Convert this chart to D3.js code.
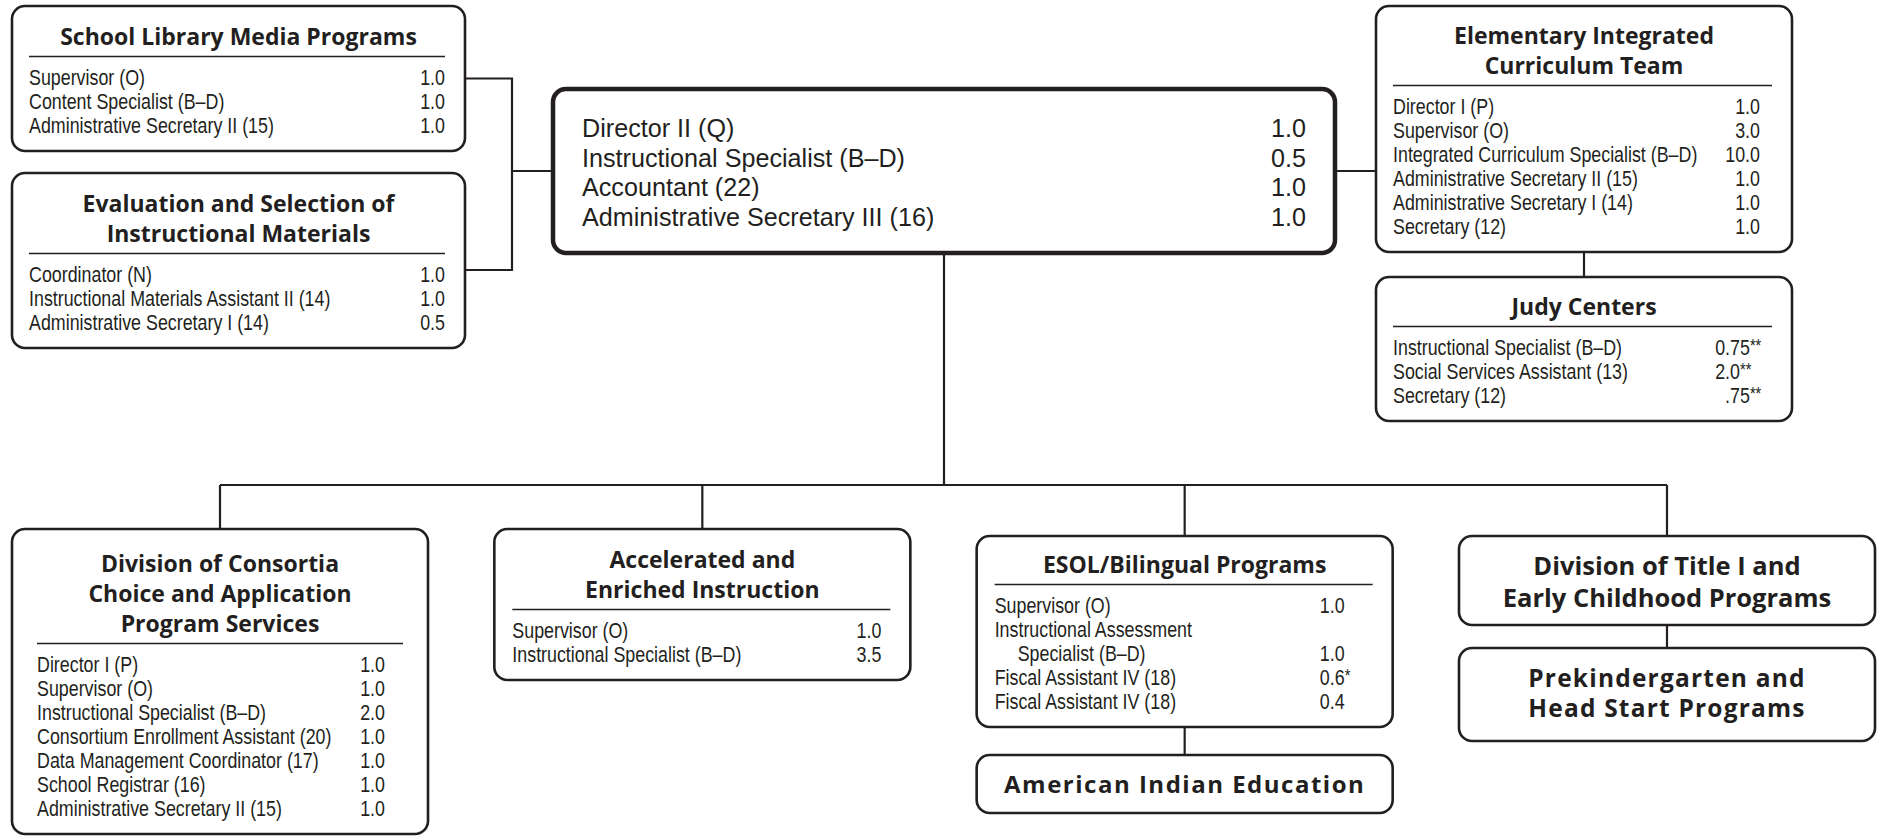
<!DOCTYPE html>
<html>
<head>
<meta charset="utf-8">
<script src="https://cdn.jsdelivr.net/npm/d3@7"></script>
<style>
	body { margin: 0; background: #fff; }
	svg { display: block; }
</style>
</head>
<body>
<svg id="chart"></svg>
<script>
// Staff lists, [position, FTE, indent?]
const mainStaff = [
	['Director II (Q)', '1.0'],
	['Instructional Specialist (B–D)', '0.5'],
	['Accountant (22)', '1.0'],
	['Administrative Secretary III (16)', '1.0']
];
const libraryTitle = ['School Library Media Programs'];
const libraryStaff = [
	['Supervisor (O)', '1.0'],
	['Content Specialist (B–D)', '1.0'],
	['Administrative Secretary II (15)', '1.0']
];
const evalTitle = ['Evaluation and Selection of', 'Instructional Materials'];
const evalStaff = [
	['Coordinator (N)', '1.0'],
	['Instructional Materials Assistant II (14)', '1.0'],
	['Administrative Secretary I (14)', '0.5']
];
const elemTitle = ['Elementary Integrated', 'Curriculum Team'];
const elemStaff = [
	['Director I (P)', '1.0'],
	['Supervisor (O)', '3.0'],
	['Integrated Curriculum Specialist (B–D)', '10.0'],
	['Administrative Secretary II (15)', '1.0'],
	['Administrative Secretary I (14)', '1.0'],
	['Secretary (12)', '1.0']
];
const judyTitle = ['Judy Centers'];
const judyStaff = [
	['Instructional Specialist (B–D)', '0.75**'],
	['Social Services Assistant (13)', '2.0**'],
	['Secretary (12)', '.75**']
];
const consortiaTitle = ['Division of Consortia', 'Choice and Application', 'Program Services'];
const consortiaStaff = [
	['Director I (P)', '1.0'],
	['Supervisor (O)', '1.0'],
	['Instructional Specialist (B–D)', '2.0'],
	['Consortium Enrollment Assistant (20)', '1.0'],
	['Data Management Coordinator (17)', '1.0'],
	['School Registrar (16)', '1.0'],
	['Administrative Secretary II (15)', '1.0']
];
const accelTitle = ['Accelerated and', 'Enriched Instruction'];
const accelStaff = [
	['Supervisor (O)', '1.0'],
	['Instructional Specialist (B–D)', '3.5']
];
const esolTitle = ['ESOL/Bilingual Programs'];
const esolStaff = [
	['Supervisor (O)', '1.0'],
	['Instructional Assessment', ''],
	['Specialist (B–D)', '1.0', true],
	['Fiscal Assistant IV (18)', '0.6*'],
	['Fiscal Assistant IV (18)', '0.4']
];
const titleOneTitle = ['Division of Title I and', 'Early Childhood Programs'];
const preKTitle = ['Prekindergarten and', 'Head Start Programs'];
const indianTitle = ['American Indian Education'];

const W = 1881, H = 840;
const INK = '#231f20';
const bodyFont = '"Liberation Sans", Arial, sans-serif';
const titleFont = '"Open Sans", "Noto Sans", sans-serif';

const svg = d3.select('#chart').attr('width', W).attr('height', H);
const linkLayer = svg.append('g');
const boxLayer = svg.append('g');

// four bottom columns
const cols = d3.scaleBand().domain(d3.range(4)).range([12, 1875]).paddingInner(0.1375);

function textWidth(str, size) {
	const t = svg.append('text').style('font-family', bodyFont).style('font-size', size + 'px').text(str);
	const w = t.node().getComputedTextLength();
	t.remove();
	return w;
}

// no narrow font installed: squeeze each text around its anchor point
function squeezed(g, x, y, k) {
	return g.append('text').attr('transform', `translate(${x},${y}) scale(${k},1)`);
}

function drawBox(b) {
	const o = Object.assign({
		title: [], rows: [], pad: 17, valueInset: 20, titleTop: 39, titleLH: 30,
		titleSize: 23, spacing: 0, rowSize: 21.5, rowH: 24, squeeze: 0.83, stroke: 2.6
	}, b);
	const g = boxLayer.append('g').attr('transform', `translate(${o.x},${o.y})`);
	const rect = g.append('rect');

	o.title.forEach((t, i) => {
		g.append('text')
			.attr('x', o.w / 2)
			.attr('y', o.titleTop + i * o.titleLH)
			.attr('text-anchor', 'middle')
			.style('font-family', titleFont)
			.style('font-weight', 700)
			.style('font-size', o.titleSize + 'px')
			.style('letter-spacing', o.spacing + 'px')
			.attr('fill', INK)
			.text(t);
	});

	let y = o.firstRow;
	if (o.title.length && o.rows.length) {
		const lineY = o.titleTop + (o.title.length - 1) * o.titleLH + 11.5;
		g.append('line')
			.attr('x1', o.pad).attr('x2', o.w - Math.max(o.pad, 20))
			.attr('y1', lineY).attr('y2', lineY)
			.attr('stroke', INK).attr('stroke-width', 1.3);
		y = lineY + 28.5;
	}

	const k = o.squeeze;
	const decX = o.w - o.valueInset - textWidth('.0', o.rowSize) * k;
	o.rows.forEach((r, i) => {
		const ry = y + i * o.rowH;
		const row = g.append('g')
			.style('font-family', bodyFont).style('font-size', o.rowSize + 'px')
			.attr('fill', INK);
		squeezed(row, o.pad + (r[2] ? 23 : 0), ry, k).text(r[0]);
		if (r[1]) {
			// decimal-aligned value, stars set small
			const m = r[1].match(/^(\d*)(\.\d+)?(\**)$/);
			const vx = decX - textWidth(m[1], o.rowSize) * k;
			const v = squeezed(row, vx, ry, k).text(m[1] + (m[2] || ''));
			if (m[3]) {
				v.append('tspan')
					.attr('dy', -3)
					.style('font-size', (o.rowSize * 0.82) + 'px')
					.text(m[3]);
			}
		}
	});

	const h = o.h || (y + (o.rows.length - 1) * o.rowH + 18);
	rect.attr('x', 0).attr('y', 0).attr('width', o.w).attr('height', h)
		.attr('rx', 13).attr('ry', 13)
		.attr('fill', '#fff').attr('stroke', INK).attr('stroke-width', o.stroke);

	return { x: o.x, y: o.y, w: o.w, h: h, cx: o.x + o.w / 2, right: o.x + o.w, bottom: o.y + h };
}

const main = drawBox({ x: 553, y: 89, w: 782, h: 164, rows: mainStaff,
	rowSize: 26.5, rowH: 29.7, firstRow: 137 - 89, pad: 29, valueInset: 29, squeeze: 0.95, stroke: 4.5 });
const library = drawBox({ x: 12, y: 6, w: 453, title: libraryTitle, rows: libraryStaff });
const evaluation = drawBox({ x: 12, y: 173, w: 453, title: evalTitle, rows: evalStaff });
const elem = drawBox({ x: 1376, y: 6, w: 416, title: elemTitle, rows: elemStaff, valueInset: 32, titleTop: 38 });
const judy = drawBox({ x: 1376, y: 277, w: 416, title: judyTitle, rows: judyStaff, valueInset: 52, titleTop: 38 });
const consortia = drawBox({ x: cols(0), y: 529, w: cols.bandwidth(), title: consortiaTitle, rows: consortiaStaff,
	pad: 25, valueInset: 43, titleTop: 43 });
const accel = drawBox({ x: cols(1), y: 529, w: cols.bandwidth(), title: accelTitle, rows: accelStaff,
	pad: 18, valueInset: 29 });
const esol = drawBox({ x: cols(2), y: 536, w: cols.bandwidth(), title: esolTitle, rows: esolStaff,
	pad: 18, valueInset: 48, titleTop: 37 });
const titleOne = drawBox({ x: cols(3), y: 536, w: cols.bandwidth(), h: 89, title: titleOneTitle,
	titleSize: 25.5, titleLH: 32 });
const preK = drawBox({ x: cols(3), y: 648, w: cols.bandwidth(), h: 93, title: preKTitle,
	titleSize: 24.5, spacing: 1.2 });
const indian = drawBox({ x: cols(2), y: 755, w: cols.bandwidth(), h: 58, title: indianTitle,
	titleSize: 24, spacing: 1.5, titleTop: 38 });

// connectors
const line = d3.line();
const links = [];
const leftX = library.right + 47;
const mainY = main.y + main.h / 2;
links.push([[library.right, library.y + library.h / 2], [leftX, library.y + library.h / 2],
	[leftX, evaluation.y + 97], [evaluation.right, evaluation.y + 97]]);
links.push([[leftX, mainY], [main.x, mainY]]);
links.push([[main.right, mainY], [elem.x, mainY]]);
links.push([[elem.cx, elem.bottom], [elem.cx, judy.y]]);
const trunkY = 485;
links.push([[main.cx, main.bottom], [main.cx, trunkY]]);
links.push([[consortia.cx, trunkY], [titleOne.cx, trunkY]]);
[consortia, accel, esol, titleOne].forEach(b => links.push([[b.cx, trunkY], [b.cx, b.y]]));
links.push([[esol.cx, esol.bottom], [esol.cx, indian.y]]);
links.push([[titleOne.cx, titleOne.bottom], [titleOne.cx, preK.y]]);

linkLayer.selectAll('path').data(links).join('path')
	.attr('d', line)
	.attr('fill', 'none')
	.attr('stroke', INK)
	.attr('stroke-width', 2.2);
</script>
</body>
</html>
